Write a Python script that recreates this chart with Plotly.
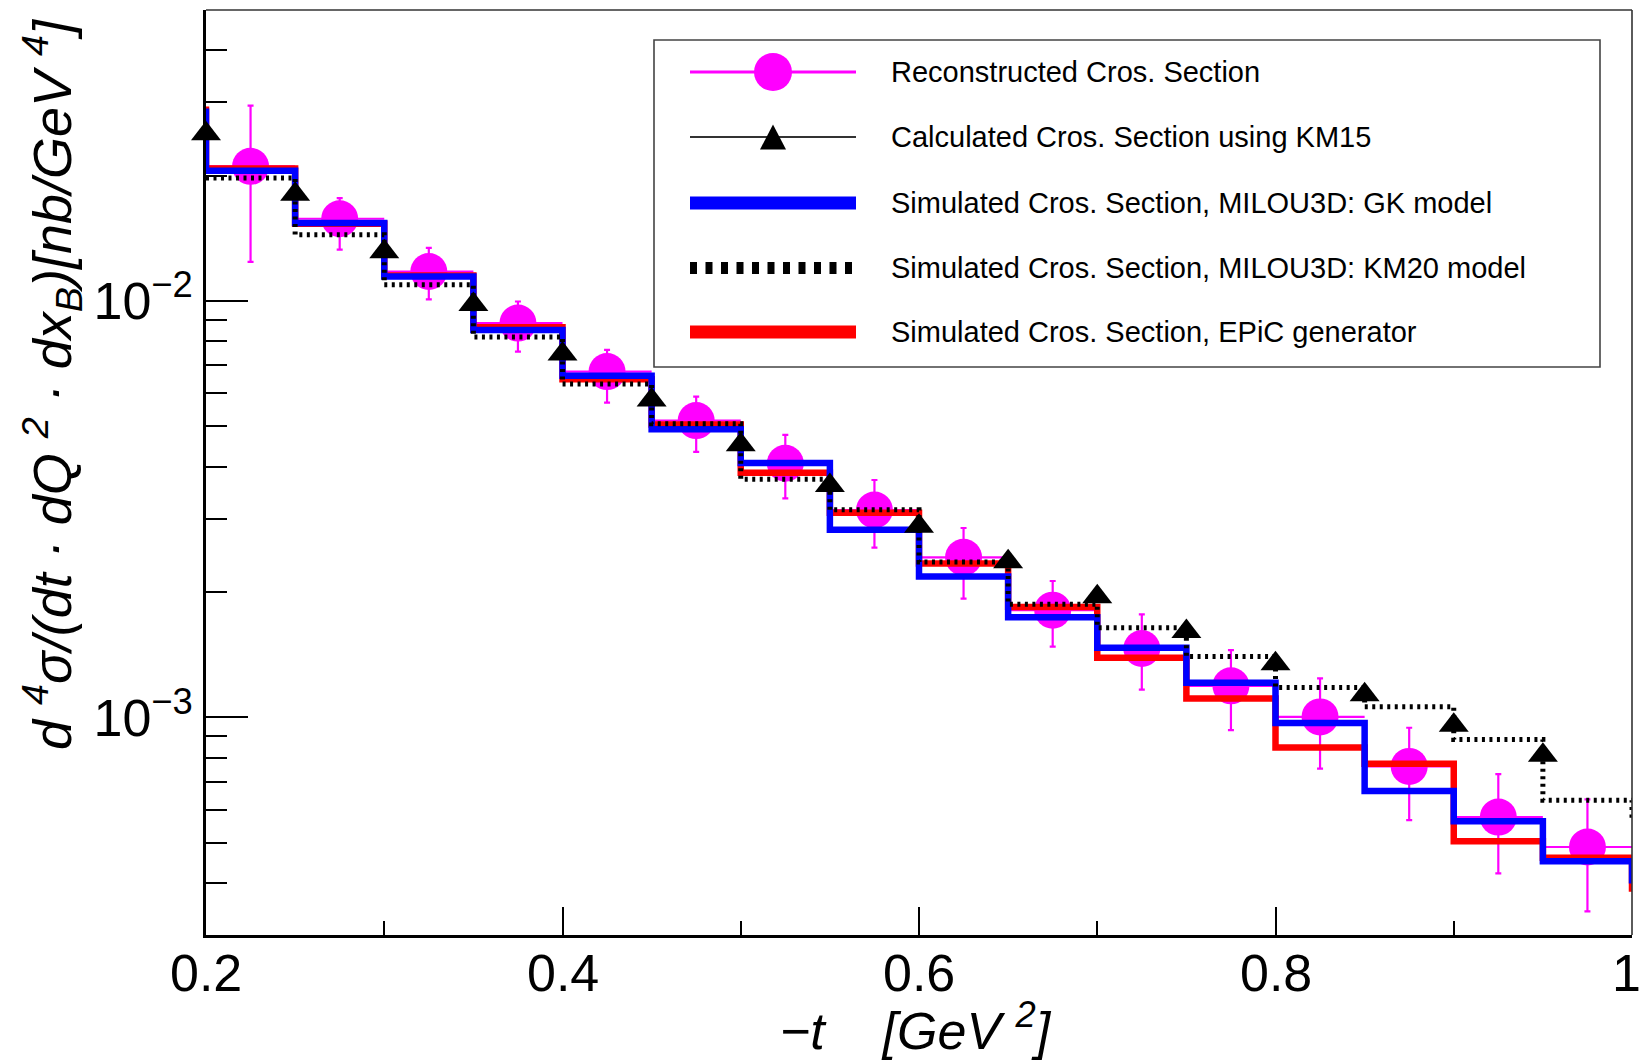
import plotly.graph_objects as go

# ---------------- data ----------------
# histogram bin edges (includes one bin either side of the visible range)
bin_edges = [0.15, 0.20, 0.25, 0.30, 0.35, 0.40, 0.45, 0.50, 0.55, 0.60,
             0.65, 0.70, 0.75, 0.80, 0.85, 0.90, 0.95, 1.00, 1.05]

gk_model = [0.0285, 0.02056, 0.01539, 0.01145, 0.00852, 0.00661, 0.00492, 0.00408,
            0.00282, 0.00218, 0.00174, 0.00147, 0.00121, 0.000969, 0.000665,
            0.000563, 0.000451, 0.000406]
epic_gen = [0.0288, 0.0208, 0.01533, 0.01151, 0.00865, 0.00649, 0.00505, 0.00387,
            0.0031, 0.00234, 0.00184, 0.00139, 0.00111, 0.000846, 0.000774,
            0.000504, 0.00046, 0.000388]
# KM20 starts at the 0.20 edge
km20_edges = bin_edges[1:]
km20_model = [0.01974, 0.01443, 0.01094, 0.00819, 0.00632, 0.00507, 0.00373,
              0.00315, 0.00236, 0.00187, 0.00164, 0.0014, 0.00118, 0.00106,
              0.000884, 0.000632, 0.000582]

t_centers = [0.225, 0.275, 0.325, 0.375, 0.425, 0.475, 0.525, 0.575,
             0.625, 0.675, 0.725, 0.775, 0.825, 0.875, 0.925, 0.975]
rec_xs = [0.02106, 0.01576, 0.01177, 0.008848, 0.006769, 0.005161, 0.004076,
          0.003147, 0.002422, 0.001809, 0.001463, 0.00119, 0.001002, 0.000762,
          0.000576, 0.000488]
rec_hi = [0.02946, 0.01766, 0.01342, 0.009972, 0.007632, 0.005894, 0.004768,
          0.003716, 0.002849, 0.002125, 0.001767, 0.00145, 0.00124, 0.000944,
          0.00073, 0.000635]
rec_lo = [0.01241, 0.01328, 0.01009, 0.007561, 0.005701, 0.00434, 0.003358,
          0.002557, 0.001928, 0.001478, 0.001165, 0.000932, 0.000753, 0.000566,
          0.000422, 0.000342]
half_bin = [0.025] * 16

km15_t = [0.20, 0.25, 0.30, 0.35, 0.40, 0.45, 0.50, 0.55,
          0.60, 0.65, 0.70, 0.75, 0.80, 0.85, 0.90, 0.95]
km15_xs = [0.02523, 0.01804, 0.01313, 0.009806, 0.007456, 0.005786, 0.004515,
           0.003606, 0.002877, 0.002364, 0.001948, 0.001608, 0.001345, 0.001133,
           0.000957, 0.000811]

legend_labels = ["Reconstructed Cros. Section",
                 "Calculated Cros. Section using KM15",
                 "Simulated Cros. Section, MILOU3D: GK model",
                 "Simulated Cros. Section, MILOU3D: KM20 model",
                 "Simulated Cros. Section, EPiC generator"]

y_major_ticks = [1e-3, 1e-2]
y_major_labels = ["10<sup>\u22123</sup>", "10<sup>\u22122</sup>"]
y_minor_ticks = [3e-4, 4e-4, 5e-4, 6e-4, 7e-4, 8e-4, 9e-4,
                 2e-3, 3e-3, 4e-3, 5e-3, 6e-3, 7e-3, 8e-3, 9e-3,
                 2e-2, 3e-2, 4e-2, 5e-2]
x_tick_vals = [0.2, 0.4, 0.6, 0.8, 1.0]
x_tick_labels = ["0.2", "0.4", "0.6", "0.8", "1"]

# ---------------- layout geometry ----------------
W, H = 1643, 1061
ML, MR, MT, MB = 206, 11, 10, 126
PW, PH = W - ML - MR, H - MT - MB
YRANGE = [-3.5229, -1.30103]


def px(x):
    return (x - ML) / PW


def py(y):
    return 1 - (y - MT) / PH


FONT = "Liberation Sans, Arial, Helvetica, sans-serif"
MAGENTA = "#ff00ff"

fig = go.Figure()

# reconstructed points (drawn first, lines go over them)
fig.add_trace(go.Scatter(
    x=t_centers, y=rec_xs, mode="markers",
    marker=dict(symbol="circle", size=37, color=MAGENTA, line=dict(width=0)),
    error_y=dict(type="data", symmetric=False,
                 array=[h - v for h, v in zip(rec_hi, rec_xs)],
                 arrayminus=[v - l for v, l in zip(rec_xs, rec_lo)],
                 color=MAGENTA, thickness=2.2, width=3),
    error_x=dict(type="data", array=half_bin, color=MAGENTA, thickness=2.2, width=0),
    showlegend=False, hoverinfo="skip"))


def step(edges, vals):
    return list(edges), list(vals) + [vals[-1]]


ex, ey = step(bin_edges, epic_gen)
fig.add_trace(go.Scatter(x=ex, y=ey, mode="lines", line_shape="hv",
                         line=dict(color="#ff0000", width=6.5), showlegend=False))
gx, gy = step(bin_edges, gk_model)
fig.add_trace(go.Scatter(x=gx, y=gy, mode="lines", line_shape="hv",
                         line=dict(color="#0000ff", width=6.5), showlegend=False))
kx, ky = step(km20_edges, km20_model)
fig.add_trace(go.Scatter(x=kx, y=ky, mode="lines", line_shape="hv",
                         line=dict(color="black", width=5, dash="3px,4.5px"),
                         showlegend=False))

fig.add_trace(go.Scatter(
    x=km15_t, y=km15_xs, mode="markers",
    marker=dict(symbol="triangle-up", size=26, color="black"),
    showlegend=False, cliponaxis=False))

# invisible trace that activates the minor-tick overlay axis
fig.add_trace(go.Scatter(x=[0.5], y=[1e-2], yaxis="y2", mode="markers",
                         marker=dict(opacity=0), showlegend=False, hoverinfo="skip"))

# ---------------- legend (drawn manually, ROOT style) ----------------
shapes = []
annotations = []
shapes.append(dict(type="rect", xref="paper", yref="paper",
                   x0=px(654), x1=px(1600), y0=py(367), y1=py(40),
                   line=dict(color="#444444", width=1.6), fillcolor="white", layer="above"))
row_y = [72, 137, 203, 268, 332]
lx0, lx1, lxc = 690, 856, 773
shapes.append(dict(type="line", xref="paper", yref="paper", x0=px(lx0), x1=px(lx1),
                   y0=py(row_y[0]), y1=py(row_y[0]), line=dict(color=MAGENTA, width=3),
                   layer="above"))
shapes.append(dict(type="circle", xref="paper", yref="paper",
                   x0=px(lxc - 19), x1=px(lxc + 19), y0=py(row_y[0] + 19), y1=py(row_y[0] - 19),
                   fillcolor=MAGENTA, line=dict(width=0), layer="above"))
shapes.append(dict(type="line", xref="paper", yref="paper", x0=px(lx0), x1=px(lx1),
                   y0=py(row_y[1]), y1=py(row_y[1]), line=dict(color="#333333", width=2.2),
                   layer="above"))
tri = "M {},{} L {},{} L {},{} Z".format(px(lxc - 13), py(row_y[1] + 12.5),
                                        px(lxc + 13), py(row_y[1] + 12.5),
                                        px(lxc), py(row_y[1] - 12.5))
shapes.append(dict(type="path", xref="paper", yref="paper", path=tri,
                   fillcolor="black", line=dict(width=0), layer="above"))
shapes.append(dict(type="line", xref="paper", yref="paper", x0=px(lx0), x1=px(lx1),
                   y0=py(row_y[2]), y1=py(row_y[2]), line=dict(color="#0000ff", width=13),
                   layer="above"))
shapes.append(dict(type="line", xref="paper", yref="paper", x0=px(lx0), x1=px(lx1),
                   y0=py(row_y[3]), y1=py(row_y[3]),
                   line=dict(color="black", width=12, dash="7px,8.5px"), layer="above"))
shapes.append(dict(type="line", xref="paper", yref="paper", x0=px(lx0), x1=px(lx1),
                   y0=py(row_y[4]), y1=py(row_y[4]), line=dict(color="#ff0000", width=13),
                   layer="above"))
for lab, yy in zip(legend_labels, row_y):
    annotations.append(dict(xref="paper", yref="paper", x=px(889), y=py(yy),
                            xanchor="left", yanchor="middle", showarrow=False,
                            text=lab, font=dict(family=FONT, size=29, color="black")))

# frame top / right (thin)
shapes.append(dict(type="line", xref="paper", yref="paper", x0=0, x1=1, y0=1, y1=1,
                   line=dict(color="#333333", width=1.6), layer="above"))
shapes.append(dict(type="line", xref="paper", yref="paper", x0=1, x1=1, y0=0, y1=1,
                   line=dict(color="#333333", width=1.6), layer="above"))

# x tick labels (as annotations so the last one can sit on the edge)
for tv, tl in zip(x_tick_vals, x_tick_labels):
    annotations.append(dict(xref="x", yref="paper", x=tv, y=py(973),
                            xanchor="center", yanchor="middle", showarrow=False,
                            xshift=(-6 if tl == "1" else 0),
                            text=tl, font=dict(family=FONT, size=52, color="black")))

# axis titles
annotations.append(dict(xref="paper", yref="paper", x=px(916), y=py(1027),
                        xanchor="center", yanchor="middle", showarrow=False,
                        text="<i>\u2212t\u00a0\u00a0\u00a0\u00a0[GeV\u00a0<sup>2</sup>]</i>",
                        font=dict(family=FONT, size=52, color="black")))
annotations.append(dict(xref="paper", yref="paper", x=px(52), y=py(384),
                        xanchor="center", yanchor="middle", showarrow=False, textangle=-90,
                        text="<i>d\u00a0<sup>4</sup>\u03c3/(dt\u00a0\u00b7\u00a0dQ\u00a0<sup>2</sup>"
                             "\u00a0\u00b7\u00a0dx<sub>B</sub>)[nb/GeV\u00a0<sup>4</sup>]</i>",
                        font=dict(family=FONT, size=54, color="black")))

fig.update_layout(
    width=W, height=H,
    margin=dict(l=ML, r=MR, t=MT, b=MB, pad=0, autoexpand=False),
    paper_bgcolor="white", plot_bgcolor="white",
    font=dict(family=FONT, color="black"),
    shapes=shapes, annotations=annotations,
    showlegend=False,
    xaxis=dict(
        range=[0.2, 1.0], showgrid=False, zeroline=False, automargin=False,
        showline=True, linecolor="black", linewidth=2.5,
        tickmode="array", tickvals=x_tick_vals, showticklabels=False,
        ticks="inside", ticklen=28, tickwidth=1.6, tickcolor="black",
        minor=dict(tickmode="linear", tick0=0.2, dtick=0.1, ticks="inside", ticklen=14,
                   tickwidth=1.6, tickcolor="black"),
    ),
    yaxis=dict(
        type="log", range=YRANGE, showgrid=False, zeroline=False, automargin=False,
        showline=True, linecolor="black", linewidth=2.5,
        tickmode="array", tickvals=y_major_ticks, ticktext=y_major_labels,
        ticks="inside", ticklen=42, tickwidth=1.6, tickcolor="black",
        tickfont=dict(family=FONT, size=52, color="black"),
    ),
    yaxis2=dict(
        type="log", range=YRANGE, overlaying="y", side="left", anchor="x",
        showgrid=False, zeroline=False, showline=False, automargin=False,
        tickmode="array", tickvals=y_minor_ticks, showticklabels=False,
        ticks="inside", ticklen=21, tickwidth=1.6, tickcolor="black",
    ),
)

fig.write_html("out.html")
